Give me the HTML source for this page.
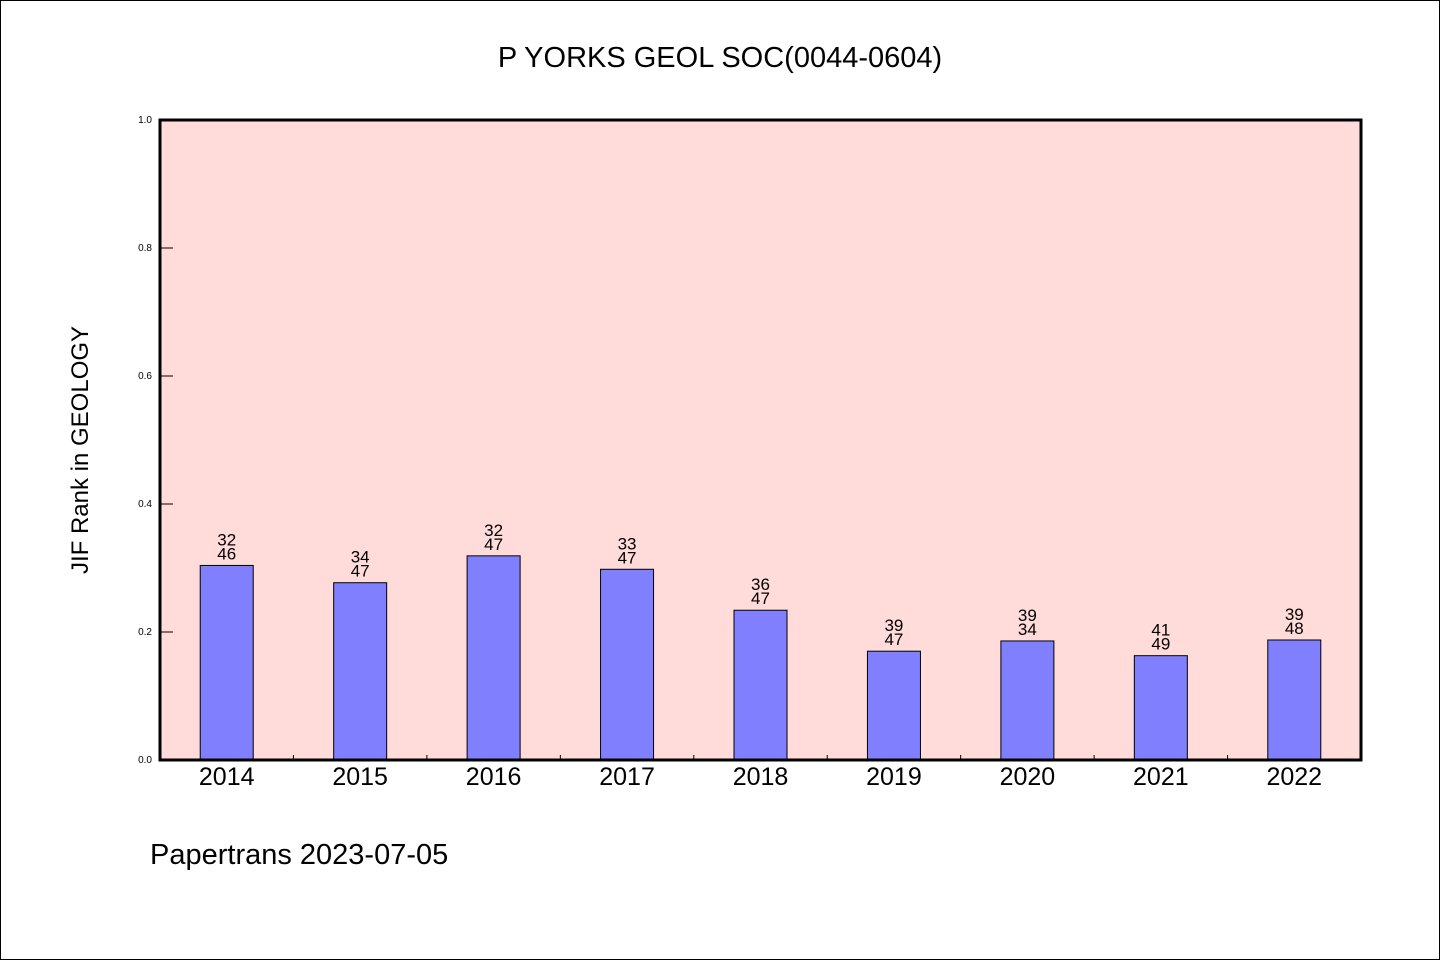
<!DOCTYPE html>
<html><head><meta charset="utf-8"><style>
body{margin:0;background:#fff;}
svg{display:block;font-family:"WenQuanYi Zen Hei","Liberation Sans",sans-serif;}
</style></head><body>
<svg id="chart" width="1440" height="960">
<rect x="0.5" y="0.5" width="1439" height="959" fill="#fff" stroke="#000"/>
<text x="720" y="67" font-size="29" text-anchor="middle">P YORKS GEOL SOC(0044-0604)</text>
<rect x="160" y="120" width="1201" height="640" fill="#ffdcd9"/>
<g id="bars"></g>
<rect x="160" y="120" width="1201" height="640" fill="none" stroke="#000" stroke-width="3"/>
<text transform="translate(88,450) rotate(-90)" font-size="24" text-anchor="middle">JIF Rank in GEOLOGY</text>
<text x="150" y="864" font-size="29">Papertrans 2023-07-05</text>
</svg>
<script>
const categories=["2014","2015","2016","2017","2018","2019","2020","2021","2022"];
const values=[0.304,0.277,0.319,0.298,0.234,0.170,0.186,0.163,0.1875];
const ranks=["32","34","32","33","36","39","39","41","39"];
const totals=["46","47","47","47","47","47","34","49","48"];
const yTicks=[0,0.2,0.4,0.6,0.8,1.0];
const yTickLabels=["0.0","0.2","0.4","0.6","0.8","1.0"];
const X0=160,W=1201,Y0=760,H=640;
const band=W/categories.length;
const xs=i=>X0+band*(i+0.5);
const ys=v=>Y0-v*H;
const g=document.getElementById('bars');
const NS='http://www.w3.org/2000/svg';
function mk(t,a){const e=document.createElementNS(NS,t);for(const k in a)e.setAttribute(k,a[k]);return e;}
categories.forEach((c,i)=>{
  const cx=xs(i),y=ys(values[i]);
  const r=mk('rect',{x:cx-26.5,y:y,width:53,height:Y0-y,fill:'#8080ff',stroke:'#000','stroke-width':1});
  
  
  g.appendChild(r);
  const t1=mk('text',{x:cx,y:y-20,'font-size':17,'text-anchor':'middle'});t1.textContent=ranks[i];
  
  
  g.appendChild(t1);
  const t2=mk('text',{x:cx,y:y-6,'font-size':17,'text-anchor':'middle'});t2.textContent=totals[i];
  
  
  g.appendChild(t2);
  const xl=mk('text',{x:cx,y:785,'font-size':25,'text-anchor':'middle'});xl.textContent=c;
  
  
  g.appendChild(xl);
  if(i>0){const tk=mk('line',{x1:X0+band*i,x2:X0+band*i,y1:Y0,y2:Y0-5,stroke:'#000'});
  
  
  g.appendChild(tk);}
});
yTicks.forEach((v,i)=>{
  const y=ys(v);
  const l=mk('line',{x1:X0,x2:X0+13,y1:y,y2:y,stroke:'#000'});
  
  
  g.appendChild(l);
  const t=mk('text',{x:152,y:y+3,'font-size':10,'text-anchor':'end'});t.textContent=yTickLabels[i];
  
  
  g.appendChild(t);
});
</script>
</body></html>
